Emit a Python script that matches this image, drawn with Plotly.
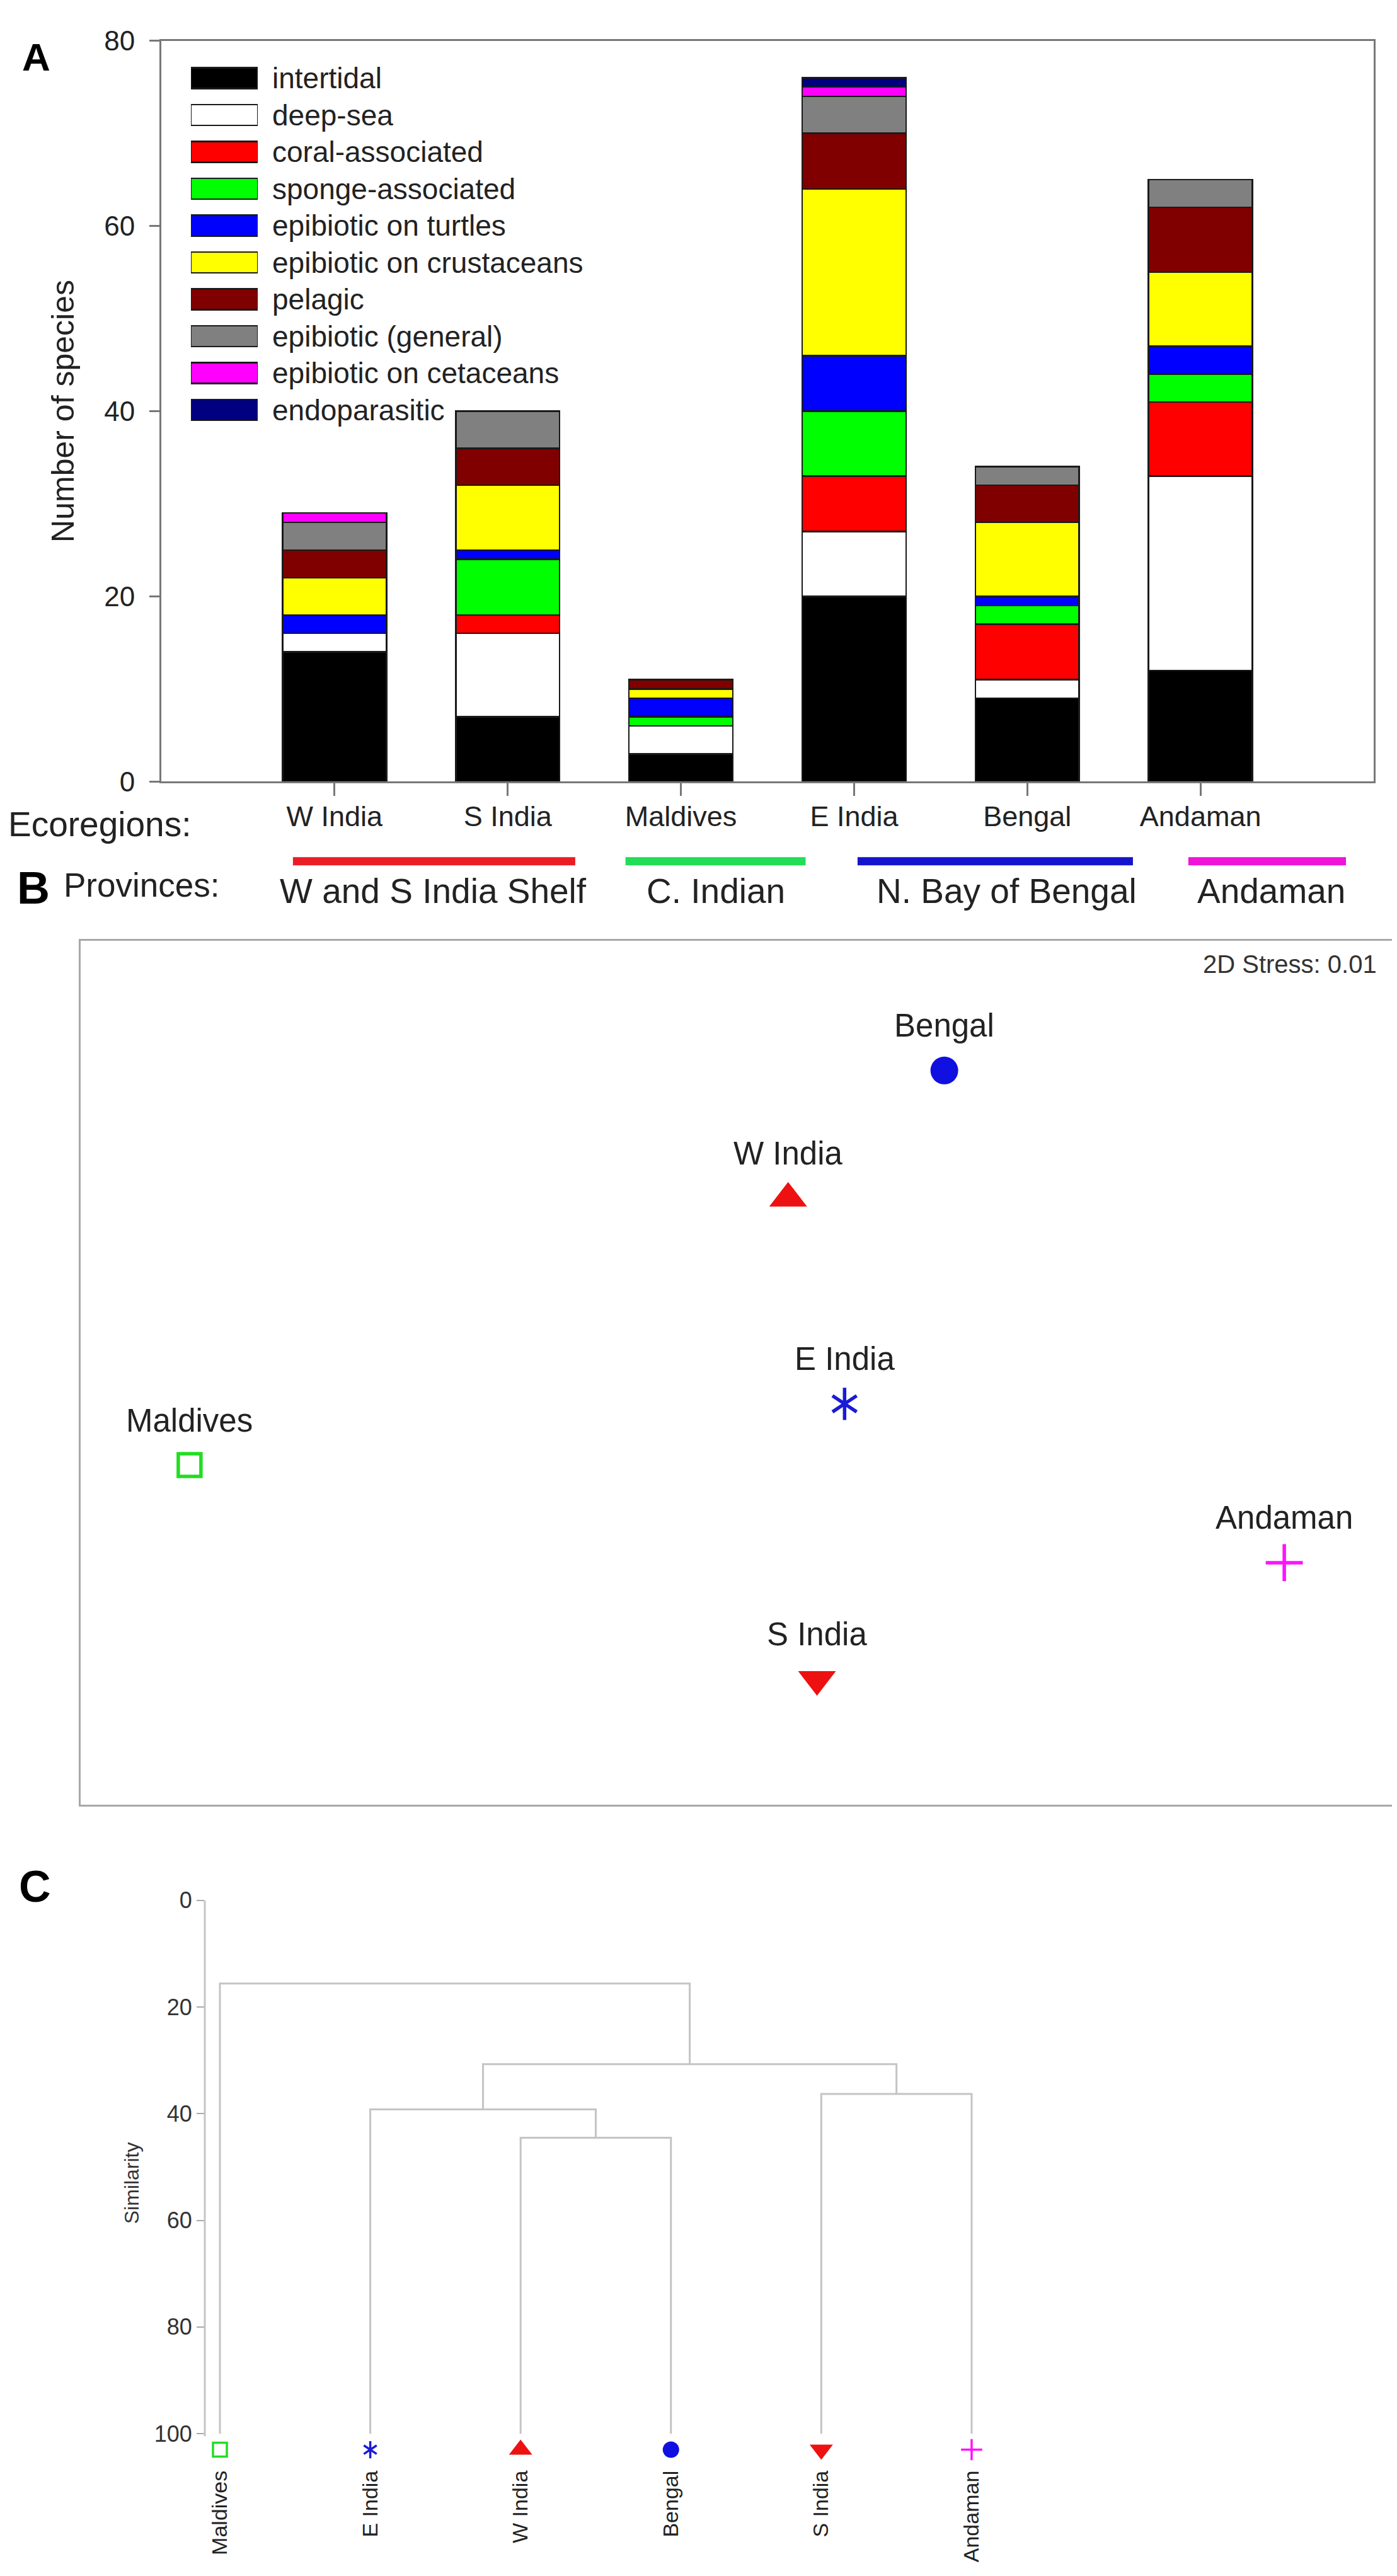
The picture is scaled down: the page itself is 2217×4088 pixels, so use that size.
import plotly.graph_objects as go

W, H = 2217, 4088
FONT = "Liberation Sans"
TXT = "#222222"

# ---------------- Panel A data ----------------
ecoregions = ["W India", "S India", "Maldives", "E India", "Bengal", "Andaman"]
groups = ["intertidal", "deep-sea", "coral-associated", "sponge-associated",
          "epibiotic on turtles", "epibiotic on crustaceans", "pelagic",
          "epibiotic (general)", "epibiotic on cetaceans", "endoparasitic"]
group_colors = ["#000000", "#ffffff", "#ff0000", "#00ff00", "#0000ff",
                "#ffff00", "#800000", "#808080", "#ff00ff", "#000080"]
intertidal = [14, 7, 3, 20, 9, 12]
deep_sea = [2, 9, 3, 7, 2, 21]
coral = [0, 2, 0, 6, 6, 8]
sponge = [0, 6, 1, 7, 2, 3]
turtles = [2, 1, 2, 6, 1, 3]
crustaceans = [4, 7, 1, 18, 8, 8]
pelagic = [3, 4, 1, 6, 4, 7]
general = [3, 4, 0, 4, 2, 3]
cetaceans = [1, 0, 0, 1, 0, 0]
endoparasitic = [0, 0, 0, 1, 0, 0]
series = [intertidal, deep_sea, coral, sponge, turtles, crustaceans,
          pelagic, general, cetaceans, endoparasitic]
y_ticks_a = [0, 20, 40, 60, 80]

provinces = ["W and S India Shelf", "C. Indian", "N. Bay of Bengal", "Andaman"]
province_colors = ["#ec1c24", "#22dd55", "#1414cc", "#ee14d8"]
province_start = [-0.24, 1.68, 3.02, 4.93]
province_end = [1.39, 2.72, 4.61, 5.84]
province_label_x = [0.57, 2.20, 3.88, 5.41]

# ---------------- Panel B data ----------------
mds_sites = ["Bengal", "W India", "E India", "Maldives", "Andaman", "S India"]
mds_x = [65.8, 53.9, 58.2, 8.3, 91.7, 56.1]
mds_y = [85.0, 70.2, 46.4, 39.3, 28.0, 14.5]
stress_text = "2D Stress: 0.01"

# ---------------- Panel C data ----------------
leaf_order = ["Maldives", "E India", "W India", "Bengal", "S India", "Andaman"]
merge_left = [["W India"], ["S India"], ["E India"],
              ["E India", "W India", "Bengal"], ["Maldives"]]
merge_right = [["Bengal"], ["Andaman"], ["W India", "Bengal"],
               ["S India", "Andaman"],
               ["E India", "W India", "Bengal", "S India", "Andaman"]]
merge_similarity = [44.5, 36.3, 39.2, 30.7, 15.6]
leaf_similarity = 100
y_ticks_c = [0, 20, 40, 60, 80, 100]

# ---------------- styles ----------------
site_style = {
    "W India": dict(symbol=["triangle-up"], color="#ee1111"),
    "S India": dict(symbol=["triangle-down"], color="#ee1111"),
    "Maldives": dict(symbol=["square-open"], color="#22dd22"),
    "E India": dict(symbol=["y-up-open", "y-down-open"], color="#1a1ad8"),
    "Bengal": dict(symbol=["circle"], color="#1010e0"),
    "Andaman": dict(symbol=["cross-thin-open"], color="#ff10ff"),
}
size_b = {"triangle-up": 52, "triangle-down": 52, "square-open": 36,
          "y-up-open": 32, "y-down-open": 32, "circle": 44, "cross-thin-open": 42}
size_c = {"triangle-up": 32, "triangle-down": 32, "square-open": 22,
          "y-up-open": 17, "y-down-open": 17, "circle": 26, "cross-thin-open": 24}


def px(x):
    return x / W


def py(y):
    return 1 - y / H


def marker_traces(xs, ys, site, sizes, lw, xa, ya):
    st = site_style[site]
    out = []
    for sym in st["symbol"]:
        is_open = sym.endswith("open")
        out.append(go.Scatter(
            x=xs, y=ys, mode="markers", xaxis=xa, yaxis=ya, showlegend=False, cliponaxis=False,
            marker=dict(symbol=sym, size=sizes[sym], color=st["color"],
                        line=dict(color=st["color"], width=lw if is_open else 0))))
    return out


fig = go.Figure()

# ---- Panel A bars ----
xpos = list(range(len(ecoregions)))
for name, vals, col in zip(groups, series, group_colors):
    fig.add_trace(go.Bar(x=xpos, y=vals, name=name,
                         marker=dict(color=col, line=dict(color="#1a1a1a", width=2.5)),
                         width=0.6, xaxis="x", yaxis="y", showlegend=False))

# ---- Panel A legend as swatch bars ----
for k, (name, col) in enumerate(zip(groups, group_colors)):
    fig.add_trace(go.Bar(x=[1], y=[k], base=[0], orientation="h", width=0.56,
                         marker=dict(color=col, line=dict(color="#1a1a1a", width=2.5)),
                         xaxis="x2", yaxis="y2", showlegend=False))

# ---- Panel B points ----
for s, xv, yv in zip(mds_sites, mds_x, mds_y):
    for tr in marker_traces([xv], [yv], s, size_b, 5.5, "x3", "y3"):
        fig.add_trace(tr)

# ---- Panel C dendrogram ----
pos = {name: (float(i), float(leaf_similarity)) for i, name in enumerate(leaf_order)}
lx, ly = [], []
for left, right, sim in zip(merge_left, merge_right, merge_similarity):
    kl, kr = "|".join(sorted(left)), "|".join(sorted(right))
    xl, hl = pos[kl] if kl in pos else pos[left[0]]
    xr, hr = pos[kr] if kr in pos else pos[right[0]]
    lx += [xl, xl, xr, xr, None]
    ly += [hl, sim, sim, hr, None]
    pos["|".join(sorted(left + right))] = ((xl + xr) / 2, sim)
fig.add_trace(go.Scatter(x=lx, y=ly, mode="lines", line=dict(color="#c4c4c4", width=3),
                         xaxis="x4", yaxis="y4", showlegend=False, cliponaxis=False))
for i, s in enumerate(leaf_order):
    for tr in marker_traces([i], [leaf_similarity + 3], s, size_c, 3.5, "x4", "y4"):
        fig.add_trace(tr)

annotations = []
shapes = []

# Panel letters
for letter, cx, cy, fs in [("A", 49, 58, 62), ("B", 45, 1393, 72), ("C", 47, 2997, 70)]:
    annotations.append(dict(text=f"<b>{letter}</b>", x=px(cx), y=py(cy), xref="paper", yref="paper",
                            xanchor="center", yanchor="middle", showarrow=False,
                            font=dict(family=FONT, size=fs, color="#000")))

annotations.append(dict(text="Ecoregions:", x=px(3), y=py(1290), xref="paper", yref="paper",
                        xanchor="left", yanchor="middle", showarrow=False,
                        font=dict(family=FONT, size=55, color=TXT)))
annotations.append(dict(text="Provinces:", x=px(91), y=py(1388), xref="paper", yref="paper",
                        xanchor="left", yanchor="middle", showarrow=False,
                        font=dict(family=FONT, size=53, color=TXT)))
for name, x0, x1, xc, col in zip(provinces, province_start, province_end, province_label_x, province_colors):
    shapes.append(dict(type="line", xref="x", yref="paper", x0=x0, x1=x1, y0=py(1350), y1=py(1350),
                       line=dict(color=col, width=13)))
    annotations.append(dict(text=name, x=xc, y=py(1398), xref="x", yref="paper",
                            xanchor="center", yanchor="middle", showarrow=False,
                            font=dict(family=FONT, size=55, color=TXT)))

# Panel C axis line (0 to 100.5)
shapes.append(dict(type="line", xref="paper", yref="y4", x0=px(317), x1=px(317), y0=0, y1=100.5,
                   line=dict(color="#c4c4c4", width=3)))

# Panel B labels
for s, xv, yv in zip(mds_sites, mds_x, mds_y):
    annotations.append(dict(text=s, x=xv, y=yv, xref="x3", yref="y3", yshift=71,
                            xanchor="center", yanchor="middle", showarrow=False,
                            font=dict(family=FONT, size=51, color=TXT)))
annotations.append(dict(text=stress_text, x=px(2179), y=py(1515), xref="paper", yref="paper",
                        xanchor="right", yanchor="middle", showarrow=False,
                        font=dict(family=FONT, size=40, color="#333")))

AX = "#777777"
C_BOTTOM = 106
fig.update_layout(
    width=W, height=H, margin=dict(l=0, r=0, t=0, b=0),
    paper_bgcolor="white", plot_bgcolor="rgba(0,0,0,0)",
    barmode="stack", showlegend=False,
    font=dict(family=FONT, color=TXT),
    xaxis=dict(domain=[px(248), px(2172)], anchor="y", range=[-1, 6],
               tickvals=xpos, ticktext=ecoregions, ticks="outside", ticklen=20, tickwidth=3, tickcolor=AX,
               showline=True, linecolor=AX, linewidth=3, mirror=True, showgrid=False, zeroline=False,
               tickfont=dict(size=45, color=TXT), ticklabelstandoff=-6),
    yaxis=dict(domain=[py(1222), py(32)], anchor="x", range=[0, 80],
               tickvals=y_ticks_a, ticks="outside", ticklen=16, tickwidth=3, tickcolor=AX,
               showline=True, linecolor=AX, linewidth=3, mirror=True, showgrid=False, zeroline=False,
               tickfont=dict(size=44, color=TXT), ticklabelstandoff=14,
               title=dict(text="Number of species", font=dict(size=50, color=TXT), standoff=32)),
    xaxis2=dict(domain=[px(295), px(401)], anchor="y2", range=[0, 1], visible=False),
    yaxis2=dict(domain=[py(654.7), py(62.4)], anchor="x2", range=[9.5, -0.5], side="right",
                tickvals=list(range(len(groups))), ticktext=groups, ticks="", showline=False,
                showgrid=False, zeroline=False, tickfont=dict(size=46, color=TXT), ticklabelstandoff=22),
    xaxis3=dict(domain=[px(120), px(2203)], anchor="y3", range=[0, 100], showticklabels=False, ticks="",
                showline=True, linecolor="#a8a8a8", linewidth=3, mirror=True, showgrid=False, zeroline=False),
    yaxis3=dict(domain=[py(2865), py(1478)], anchor="x3", range=[0, 100], showticklabels=False, ticks="",
                showline=True, linecolor="#a8a8a8", linewidth=3, mirror=True, showgrid=False, zeroline=False),
    xaxis4=dict(domain=[px(317), px(1700)], anchor="y4", range=[-0.1006, 5.696],
                tickvals=list(range(len(leaf_order))), ticktext=leaf_order, tickangle=-90,
                ticks="", showline=False, showgrid=False, zeroline=False,
                tickfont=dict(size=34, color=TXT), ticklabelstandoff=0),
    yaxis4=dict(domain=[py(3019 + C_BOTTOM * 8.566), py(3019)], anchor="x4", range=[C_BOTTOM, 0],
                tickvals=y_ticks_c, ticks="outside", ticklen=12, tickwidth=2, tickcolor="#aaaaaa",
                showline=False, showgrid=False, zeroline=False,
                tickfont=dict(size=36, color="#333"),
                title=dict(text="Similarity", font=dict(size=32, color="#333"), standoff=14)),
    annotations=annotations, shapes=shapes,
)

fig.write_html("out.html")
